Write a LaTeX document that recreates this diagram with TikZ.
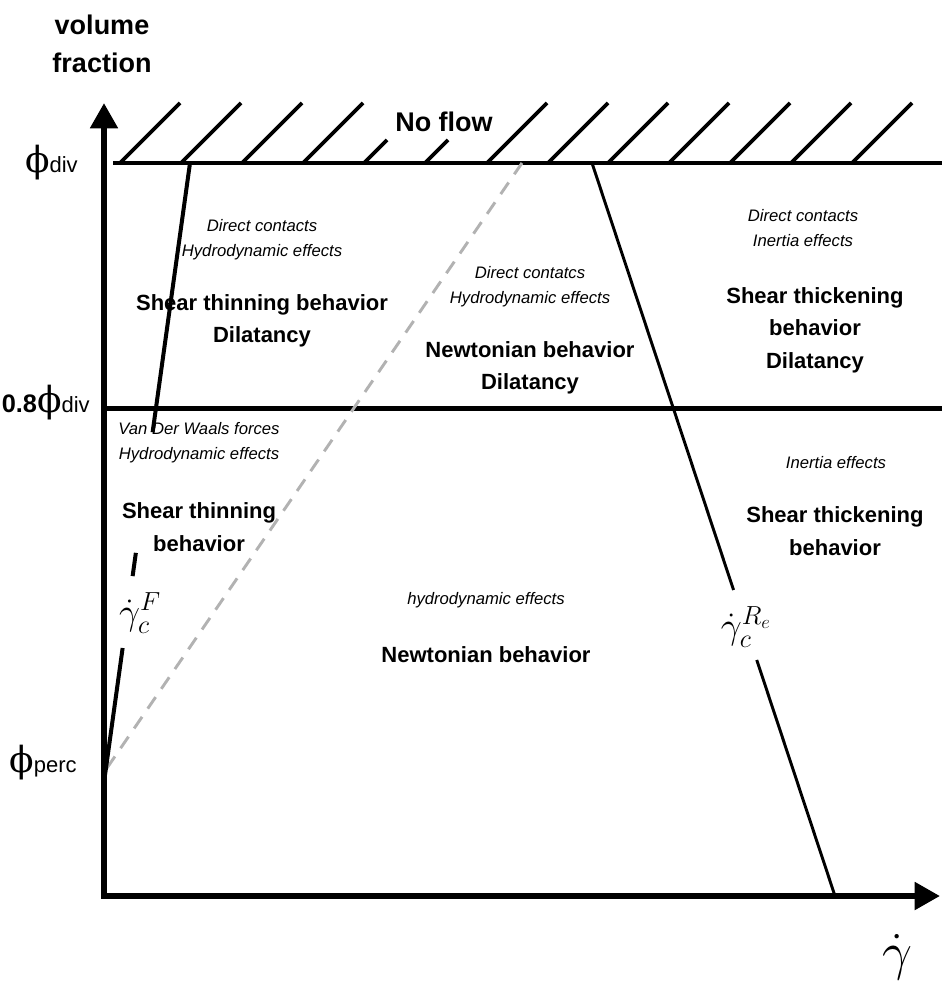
\RequirePackage{fix-cm}
\documentclass[tikz,border=0pt]{standalone}
\usepackage{fontspec}
\setmainfont{Liberation Sans}
\newfontfamily\phifont{DejaVu Serif}
\usetikzlibrary{arrows.meta,calc}

\newcommand{\axlabfont}{\fontsize{20.25}{29}\selectfont\bfseries}
\newcommand{\regimefont}{\fontsize{16.5}{24.3}\selectfont\bfseries}
\newcommand{\effectfont}{\fontsize{12.5}{18.75}\selectfont\itshape}
\newcommand{\phisym}{{\phifont\fontsize{27}{27}\selectfont ϕ}}
\newcommand{\subtxt}[1]{{\fontsize{16.5}{16.5}\selectfont #1}}

\begin{document}
\begin{tikzpicture}[x=0.75pt, y=-0.75pt, inner sep=0pt,
	axis/.style={line width=4.5pt, {Triangle[length=19pt,width=20pt]}-{Triangle[length=19pt,width=20pt]}},
	hatch/.style={line width=2.8pt},
	bound/.style={line width=3pt},
	critline/.style={line width=3pt},
	reline/.style={line width=2.2pt},
	guide/.style={line width=2.2pt, color=black!30, dash pattern=on 10.5pt off 7.5pt},
	regime/.style={font=\regimefont, align=center},
	effect/.style={font=\effectfont, align=center},
	rate/.style={font=\fontsize{28}{28}\selectfont}]
	\useasboundingbox (0,0) rectangle (942,981);

	\coordinate (O) at (104,896);
	\coordinate (ytip) at (104,103);
	\coordinate (xtip) at (940,896);
	\coordinate (divL) at (113,163);
	\coordinate (divR) at (942,163);
	\coordinate (midL) at (104,408);
	\coordinate (midR) at (942,408);
	\coordinate (Ftop) at (190,163);
	\coordinate (Fbot) at (105,775);
	\coordinate (Gbot) at (107,768);
	\coordinate (Gtop) at (522,163);
	\coordinate (Rtop) at (592,163);
	\coordinate (Rbot) at (835,896);

	% hatching above phi_div
	\foreach \x/\h in {120/60,181/60,242/60,303/60,364/23,425/23,487/60,548/60,608/60,669/60,730/60,791/60,852/60}
		\draw[hatch] (\x,163) -- ++(\h,-\h);
	\node[font=\axlabfont] (noflow) at (444,122) {No flow};

	\draw[bound] (divL) -- (divR);
	\draw[line width=3.75pt] (midL) -- (midR);
	\draw[guide] (Gbot) -- (Gtop);

	% critical shear rates
	\draw[critline] (Ftop) -- ($(Ftop)!0.44!(Fbot)$);
	\draw[critline] ($(Ftop)!0.637!(Fbot)$) -- ($(Ftop)!0.675!(Fbot)$);
	\draw[critline] ($(Ftop)!0.7925!(Fbot)$) -- (Fbot);
	\draw[reline] (Rtop) -- ($(Rtop)!0.5825!(Rbot)$);
	\draw[reline] ($(Rtop)!0.678!(Rbot)$) -- (Rbot);

	\draw[axis] (ytip) -- (O) -- (xtip);

	% axis labels
	\node[font=\axlabfont, align=center] (vf) at (102,44) {volume\\fraction};
	\node[anchor=east] (phidiv) at (78,163) {\phisym\subtxt{div}};
	\node[anchor=east] (phimid) at (90,403) {{\fontsize{19}{19}\selectfont\bfseries 0.8}\phisym\subtxt{div}};
	\node[anchor=east] (phiperc) at (77,763) {\phisym\subtxt{perc}};
	\node[font=\fontsize{40}{40}\selectfont] (rate) at (897,957) {$\dot\gamma$};
	\node[rate] (rateF) at (140,613) {$\dot\gamma_c^{F}$};
	\node[rate] (rateRe) at (746,627) {$\dot\gamma_c^{R_e}$};

	% upper band
	\node[effect] (dcTop) at (262,240) {Direct contacts\\Hydrodynamic effects};
	\node[regime] (thinDil) at (262,321) {Shear thinning behavior\\Dilatancy};
	\node[effect] (dcMid) at (530,287) {Direct contatcs\\Hydrodynamic effects};
	\node[regime] (newtDil) at (530,368) {Newtonian behavior\\Dilatancy};
	\node[effect] (dcRight) at (803,228) {Direct contacts\\Inertia effects};
	\node[regime] (thickDil) at (815,330) {Shear thickening\\behavior\\Dilatancy};

	% lower band
	\node[effect] (vdw) at (199,443) {Van Der Waals forces\\Hydrodynamic effects};
	\node[regime] (thin) at (199,527) {Shear thinning\\behavior};
	\node[effect] (hydro) at (486,600) {hydrodynamic effects};
	\node[regime] (newt) at (486,655) {Newtonian behavior};
	\node[effect] (inertia) at (836,463) {Inertia effects};
	\node[regime] (thick) at (835,531) {Shear thickening\\behavior};
\end{tikzpicture}
\end{document}
